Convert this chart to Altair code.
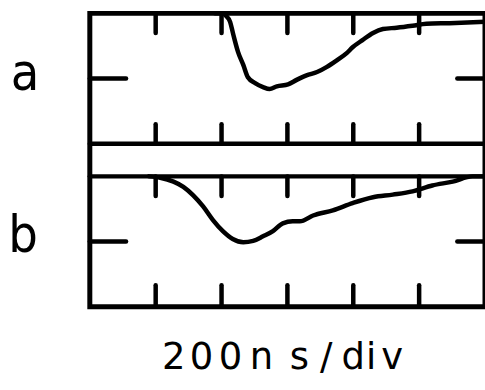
import altair as alt
import pandas as pd

# ---- data ----
# time axis in divisions (200 ns/div), vertical in divisions within each panel (0 = panel bottom, 2 = panel top)
a_t = [1.90, 2.02, 2.07, 2.13, 2.17, 2.20, 2.25, 2.33, 2.40, 2.51, 2.63, 2.73, 2.84, 3.01, 3.14,
       3.29, 3.45, 3.60, 3.75, 3.90, 3.99, 4.14, 4.30, 4.45, 4.66, 4.90, 5.11, 5.46, 6.00]
a_v = [2.00, 2.00, 1.96, 1.87, 1.71, 1.59, 1.41, 1.21, 1.02, 0.93, 0.87, 0.84, 0.88, 0.91, 0.98,
       1.05, 1.10, 1.18, 1.28, 1.39, 1.48, 1.59, 1.70, 1.76, 1.78, 1.81, 1.84, 1.85, 1.87]

b_t = [0.90, 1.07, 1.27, 1.42, 1.57, 1.72, 1.87, 2.02, 2.17, 2.33, 2.48, 2.63, 2.78, 2.93, 3.08,
       3.19, 3.39, 3.69, 3.99, 4.30, 4.60, 4.90, 5.20, 5.51, 5.81, 6.00]
b_v = [2.00, 1.98, 1.92, 1.84, 1.71, 1.54, 1.33, 1.16, 1.04, 0.99, 1.01, 1.08, 1.16, 1.28, 1.31,
       1.31, 1.40, 1.48, 1.59, 1.68, 1.72, 1.77, 1.86, 1.92, 2.00, 2.00]

x_ticks = [1, 2, 3, 4, 5]
panel_labels = ["a", "b"]
axis_text = "200ns/div"

# ---- layout ----
W, H = 396, 294
N_DIV = 6
A_OFF = 2.5          # panel a sits above a 0.5-unit strip over panel b
Y_MAX = 4.5
TICK = 0.3
MID_L, MID_R = 0.55, 5.58
INK = "black"
LW = 4.5

xs = alt.Scale(domain=[0, N_DIV], nice=False, zero=False)
ys = alt.Scale(domain=[0, Y_MAX], nice=False, zero=False)

traces = pd.concat([
    pd.DataFrame({"t": a_t, "v": [v + A_OFF for v in a_v], "trace": "a"}),
    pd.DataFrame({"t": b_t, "v": b_v, "trace": "b"}),
])

lines = alt.Chart(traces).mark_line(
    color=INK, strokeWidth=LW, strokeCap="round", strokeJoin="round", interpolate="monotone"
).encode(
    x=alt.X("t:Q", scale=xs, axis=None),
    y=alt.Y("v:Q", scale=ys, axis=None),
    detail="trace:N",
)

# vertical graticule ticks
vt = []
for x in x_ticks:
    vt.append({"x": x, "y": Y_MAX, "y2": Y_MAX - TICK})          # a top
    vt.append({"x": x, "y": A_OFF, "y2": A_OFF + TICK})          # a bottom
    vt.append({"x": x, "y": 2.0, "y2": 2.0 - TICK})              # b top
    vt.append({"x": x, "y": 0.0, "y2": TICK + 0.03})             # b bottom
vticks = alt.Chart(pd.DataFrame(vt)).mark_rule(
    color=INK, strokeWidth=LW, strokeCap="round"
).encode(
    x=alt.X("x:Q", scale=xs, axis=None),
    y=alt.Y("y:Q", scale=ys, axis=None),
    y2="y2:Q",
)

# horizontal: mid ticks and the separator strip
ht = [
    {"x": 0, "x2": MID_L, "y": A_OFF + 1}, {"x": MID_R, "x2": N_DIV, "y": A_OFF + 1},
    {"x": 0, "x2": MID_L, "y": 1.0}, {"x": MID_R, "x2": N_DIV, "y": 1.0},
    {"x": 0, "x2": N_DIV, "y": A_OFF}, {"x": 0, "x2": N_DIV, "y": 2.0},
]
hticks = alt.Chart(pd.DataFrame(ht)).mark_rule(
    color=INK, strokeWidth=LW, strokeCap="round"
).encode(
    x=alt.X("x:Q", scale=xs, axis=None),
    x2="x2:Q",
    y=alt.Y("y:Q", scale=ys, axis=None),
)

# panel letters (pixel positions relative to plot area)
lab_px = [-65, -67]
lab_py = [77, 239]
labels = alt.Chart(pd.DataFrame({"lab": panel_labels, "px": lab_px, "py": lab_py})).mark_text(
    font="DejaVu Sans Condensed, DejaVu Sans", fontSize=52, color=INK,
    align="center", baseline="alphabetic",
).encode(
    x=alt.X("px:Q", scale=None, axis=None),
    y=alt.Y("py:Q", scale=None, axis=None),
    text="lab:N",
)

# bottom caption, letter-spaced like stencil lettering
char_px = [84, 112, 141, 172, 210, 237, 264, 282, 303]
cap = pd.DataFrame({"ch": list(axis_text), "px": char_px, "py": [356] * len(axis_text)})
caption = alt.Chart(cap).mark_text(
    font="DejaVu Sans", fontSize=37, color=INK, align="center", baseline="alphabetic",
).encode(
    x=alt.X("px:Q", scale=None, axis=None),
    y=alt.Y("py:Q", scale=None, axis=None),
    text="ch:N",
)

chart = alt.layer(hticks, vticks, lines, labels, caption).properties(
    width=W, height=H,
    autosize=alt.AutoSizeParams(type="none"),
    padding={"left": 90, "top": 13, "right": 0, "bottom": 83},
    background="white",
).configure_view(stroke=INK, strokeWidth=LW + 0.5)

chart.save("out.html", embed_options={"renderer": "svg", "actions": False})
